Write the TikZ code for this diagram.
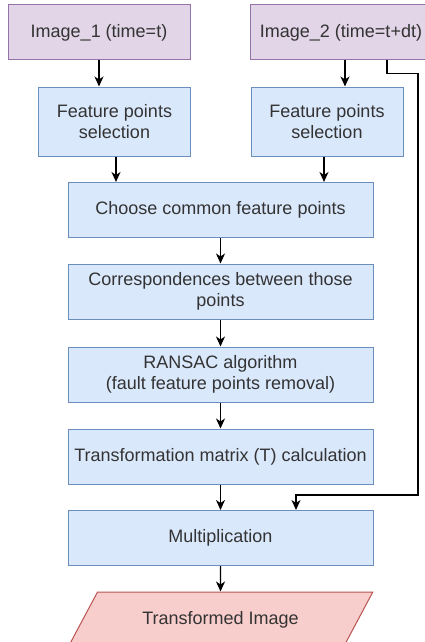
\documentclass[tikz,border=0pt]{standalone}
\usepackage{fontspec}
\setmainfont{Liberation Sans}
\usetikzlibrary{shapes,arrows.meta}

\begin{document}
\begin{tikzpicture}[x=1pt,y=-1pt,
  every node/.style={font=\fontsize{18}{20.5}\selectfont, text=txtColor, align=center, inner sep=0pt},
  imgbox/.style={draw=imgLine, fill=imgFill, line width=1pt, minimum width=182pt, minimum height=55pt},
  fpbox/.style={draw=stepLine, fill=stepFill, line width=1pt, minimum width=152pt, minimum height=69pt},
  stepbox/.style={draw=stepLine, fill=stepFill, line width=1pt, minimum width=305pt, minimum height=55pt},
  outbox/.style={trapezium, trapezium left angle=42, trapezium right angle=138, trapezium stretches=true, draw=outLine, fill=outFill, line width=1pt, minimum width=305pt, minimum height=55pt},
  link/.style={->, >={Stealth[length=10pt,width=9pt,inset=3pt]}, line width=1.3pt, black}]
\definecolor{txtColor}{RGB}{51,51,51}
\definecolor{imgFill}{RGB}{225,213,231}
\definecolor{imgLine}{RGB}{150,115,166}
\definecolor{stepFill}{RGB}{218,232,252}
\definecolor{stepLine}{RGB}{108,142,191}
\definecolor{outFill}{RGB}{248,206,204}
\definecolor{outLine}{RGB}{184,84,80}
\useasboundingbox (0,0) rectangle (425,642);
\node[imgbox] (img1) at (99,32.5) {Image\_1 (time=t)};
\node[imgbox] (img2) at (341,32.5) {Image\_2 (time=t+dt)};
\node[fpbox] (fp1) at (114.5,121.5) {Feature points\\selection};
\node[fpbox] (fp2) at (327,121.5) {Feature points\\selection};
\node[stepbox] (choose) at (220.5,210) {Choose common feature points};
\node[stepbox] (corr) at (220.5,291.5) {Correspondences between those\\points};
\node[stepbox] (ransac) at (220.5,374.5) {RANSAC algorithm\\(fault feature points removal)};
\node[stepbox] (trans) at (220.5,456.5) {Transformation matrix (T) calculation};
\node[stepbox] (mult) at (220.5,538) {Multiplication};
\node[outbox] (out) at (220.5,619.5) {Transformed Image};
\coordinate (loop) at (418,495);
\draw[link] (img1.south) -- (img1.south |- fp1.north);
\draw[link] ([xshift=4pt]img2.south) -- ([xshift=4pt]img2.south |- fp2.north);
\draw[link] ([xshift=1.5pt]fp1.south) -- ([xshift=1.5pt]fp1.south |- choose.north);
\draw[link] ([xshift=-3pt]fp2.south) -- ([xshift=-3pt]fp2.south |- choose.north);
\draw[link] (choose) -- (corr);
\draw[link] (corr) -- (ransac);
\draw[link] (ransac) -- (trans);
\draw[link] (trans) -- (mult);
\draw[link] (mult) -- (out);
\draw[link] ([xshift=46pt]img2.south) -- ++(0,13) -| (loop) -| ([xshift=75.5pt]mult.north);
\end{tikzpicture}
\end{document}
